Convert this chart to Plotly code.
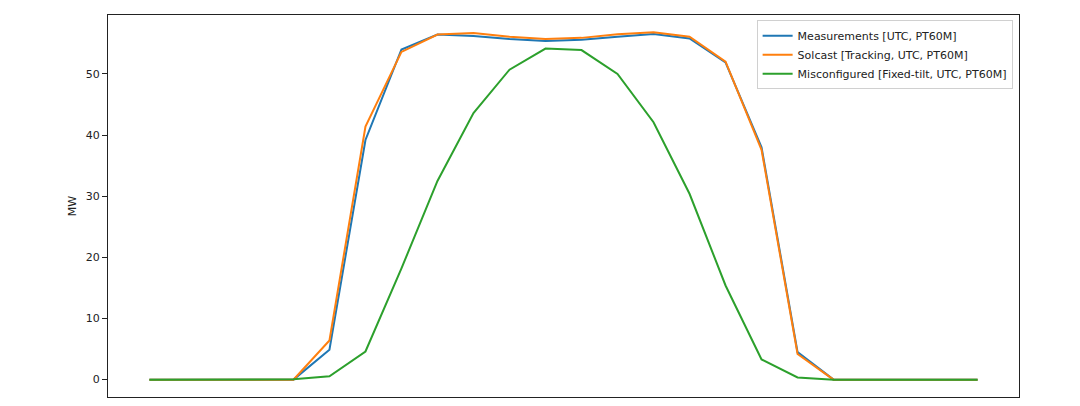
import plotly.graph_objects as go

# Hour of day (UTC), hourly resolution
hours = [0, 1, 2, 3, 4, 5, 6, 7, 8, 9, 10, 11,
         12, 13, 14, 15, 16, 17, 18, 19, 20, 21, 22, 23]

# Power output in MW
measurements = [0, 0, 0, 0, 0, 4.9, 39.2, 54.0, 56.45, 56.2, 55.7, 55.4,
                55.6, 56.1, 56.55, 55.8, 51.9, 38.0, 4.5, 0, 0, 0, 0, 0]
solcast_tracking = [0, 0, 0, 0, 0, 6.4, 41.4, 53.6, 56.45, 56.7, 56.1, 55.7,
                    55.9, 56.5, 56.8, 56.1, 52.0, 37.6, 4.2, 0, 0, 0, 0, 0]
misconfigured = [0, 0, 0, 0, 0.05, 0.55, 4.6, 18.2, 32.5, 43.6, 50.7, 54.15,
                 53.9, 50.0, 42.1, 30.4, 15.4, 3.3, 0.35, 0, 0, 0, 0, 0]

names = ["Measurements [UTC, PT60M]",
         "Solcast [Tracking, UTC, PT60M]",
         "Misconfigured [Fixed-tilt, UTC, PT60M]"]
colors = ["#1f77b4", "#ff7f0e", "#2ca02c"]

fig = go.Figure()
for series, name, color in zip([measurements, solcast_tracking, misconfigured], names, colors):
    fig.add_trace(go.Scatter(x=hours, y=series, mode="lines", name=name,
                             line=dict(color=color, width=2)))

# matplotlib-like 5% margins
ymax = max(max(measurements), max(solcast_tracking), max(misconfigured))
xpad = (hours[-1] - hours[0]) * 0.05
ypad = ymax * 0.05

# page body adds an 8px offset, so the figure is a bit smaller
fig.update_layout(
    width=1072, height=398,
    paper_bgcolor="white", plot_bgcolor="white",
    margin=dict(l=100, r=61, t=7, b=9),
    font=dict(family="DejaVu Sans", size=11, color="#222"),
    legend=dict(x=0.993, y=0.986, xanchor="right", yanchor="top",
                bgcolor="rgba(255,255,255,0.8)", bordercolor="#d0d0d0", borderwidth=1,
                font=dict(size=11), tracegroupgap=0),
    showlegend=True,
)
fig.update_xaxes(range=[hours[0] - xpad, hours[-1] + xpad], showgrid=False, zeroline=False,
                 showticklabels=False, ticks="", showline=True, mirror=True,
                 linecolor="#222", linewidth=1)
fig.update_yaxes(range=[-ypad, ymax + ypad], showgrid=False, zeroline=False,
                 tickvals=[0, 10, 20, 30, 40, 50], ticks="outside", ticklen=5,
                 tickcolor="#222", showline=True, mirror=True, linecolor="#222", linewidth=1,
                 title=dict(text="MW", font=dict(size=11), standoff=6))

fig.write_html("out.html")
